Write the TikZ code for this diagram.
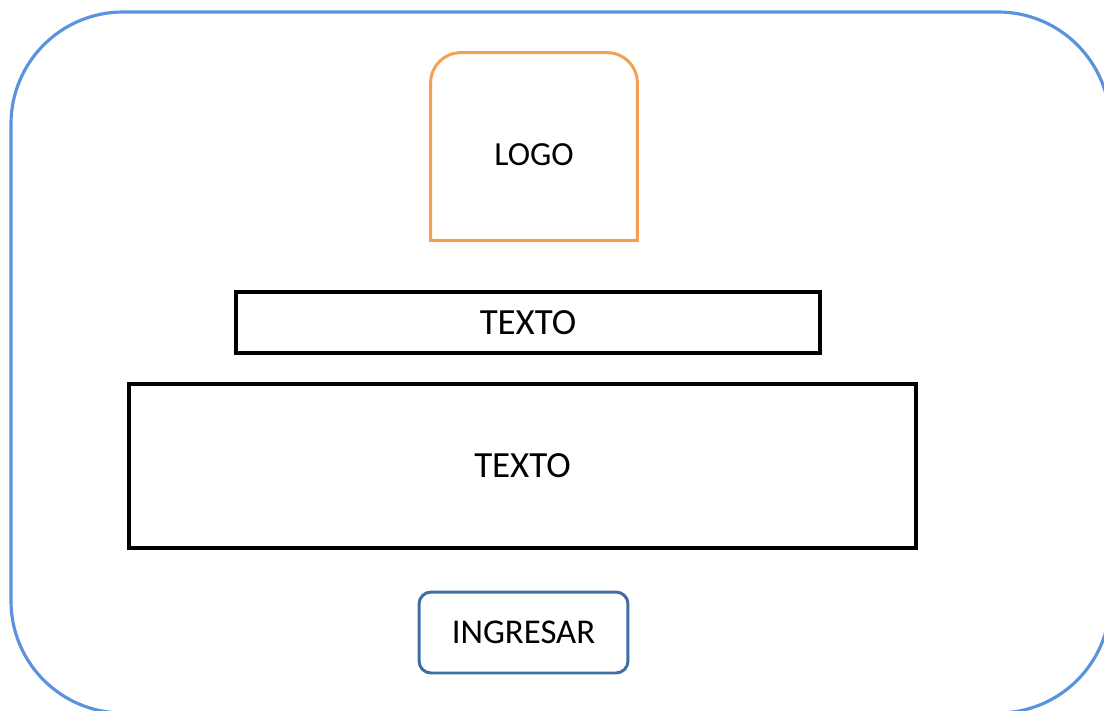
\documentclass[tikz,border=0pt]{standalone}
\usepackage{fontspec}
\setmainfont{Carlito}
\usepackage{xcolor}
\usetikzlibrary{positioning}

\definecolor{screenblue}{RGB}{91,146,220}
\definecolor{logoorange}{RGB}{245,160,80}
\definecolor{buttonblue}{RGB}{65,110,160}

\tikzset{
    textbox/.style={draw=black, line width=1.8pt, fill=white, font=\fontsize{21}{24}\selectfont},
    button/.style={draw=buttonblue, line width=1.7pt, rounded corners=0.24cm, font=\fontsize{19.8}{22}\selectfont}
}

\begin{document}
\begin{tikzpicture}[x=0.02cm, y=-0.02cm]
    % Page
    \useasboundingbox (0,0) rectangle (1104,710);
    \clip (0,0) rectangle (1104,710);

    % Screen frame
    \draw[screenblue, line width=1.8pt, rounded corners=2.24cm] (11,12) rectangle (1110,713);

    % Logo
    \node[minimum width=4.12cm, minimum height=3.74cm] (logo) at (534,146.5) {};
    \draw[logoorange, line width=1.7pt] (logo.south west)
        {[rounded corners=0.6cm] -- (logo.north west) -- (logo.north east)} -- (logo.south east) -- cycle;
    \node[font=\fontsize{19.2}{22}\selectfont] (logotexto) at (534,155) {LOGO};

    % Texts
    \node[textbox, minimum width=11.68cm, minimum height=1.22cm] (titulo) at (528,322.5) {TEXTO};
    \node[textbox, minimum width=15.74cm, minimum height=3.28cm] (cuerpo) at (522.5,466) {TEXTO};

    % Button
    \node[button, minimum width=4.18cm, minimum height=1.62cm] (ingresar) at (523.5,632.5) {INGRESAR};
\end{tikzpicture}
\end{document}
